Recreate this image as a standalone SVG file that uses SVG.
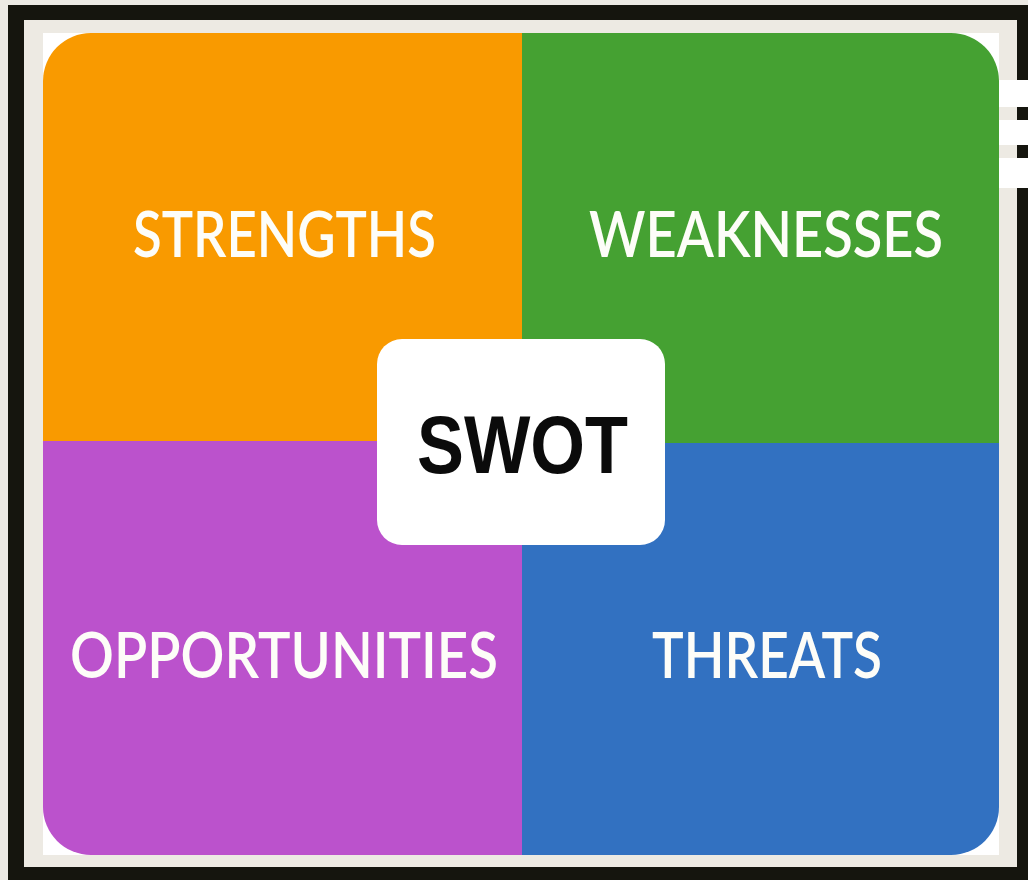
<svg xmlns="http://www.w3.org/2000/svg" width="1028" height="880" viewBox="0 0 1028 880">
<style>
.lbl{font-family:Lato,"Liberation Sans",sans-serif;font-weight:600;fill:#fdfdf8;font-size:63px}
.core{font-family:"Liberation Sans",Arial,sans-serif;font-weight:700;fill:#0b0b0b;font-size:81px}
</style>
<rect x="0" y="0" width="1028" height="880" fill="#ECEAE4"/>
<rect x="8" y="5" width="1020" height="875" fill="#15150E"/>
<rect x="24" y="20" width="993" height="847" fill="#EDEAE3"/>
<rect x="43" y="33" width="956" height="822" fill="#ffffff"/>
<g id="bars" fill="#ffffff">
<rect x="999" y="80" width="29" height="27"/>
<rect x="999" y="120" width="29" height="25"/>
<rect x="999" y="158" width="29" height="30"/>
</g>
<g id="strengths">
<path d="M91 33 H522 V441 H43 V81 A48 48 0 0 1 91 33 Z" fill="#F99A00"/>
<text class="lbl" x="133" y="257" textLength="303" lengthAdjust="spacingAndGlyphs">STRENGTHS</text>
</g>
<g id="weaknesses">
<path d="M522 33 H951 A48 48 0 0 1 999 81 V443 H522 Z" fill="#45A132"/>
<text class="lbl" x="589" y="257" textLength="354" lengthAdjust="spacingAndGlyphs">WEAKNESSES</text>
</g>
<g id="opportunities">
<path d="M43 441 H522 V855 H91 A48 48 0 0 1 43 807 Z" fill="#BB52CC"/>
<text class="lbl" x="70" y="678" textLength="428" lengthAdjust="spacingAndGlyphs">OPPORTUNITIES</text>
</g>
<g id="threats">
<path d="M522 443 H999 V807 A48 48 0 0 1 951 855 H522 Z" fill="#3271C1"/>
<text class="lbl" x="652" y="678" textLength="230" lengthAdjust="spacingAndGlyphs">THREATS</text>
</g>
<g id="connectors"></g>
<g id="swot">
<rect x="377" y="339" width="288" height="206" rx="25" fill="#ffffff"/>
<text class="core" x="417" y="473" textLength="211" lengthAdjust="spacingAndGlyphs">SWOT</text>
</g>
</svg>
